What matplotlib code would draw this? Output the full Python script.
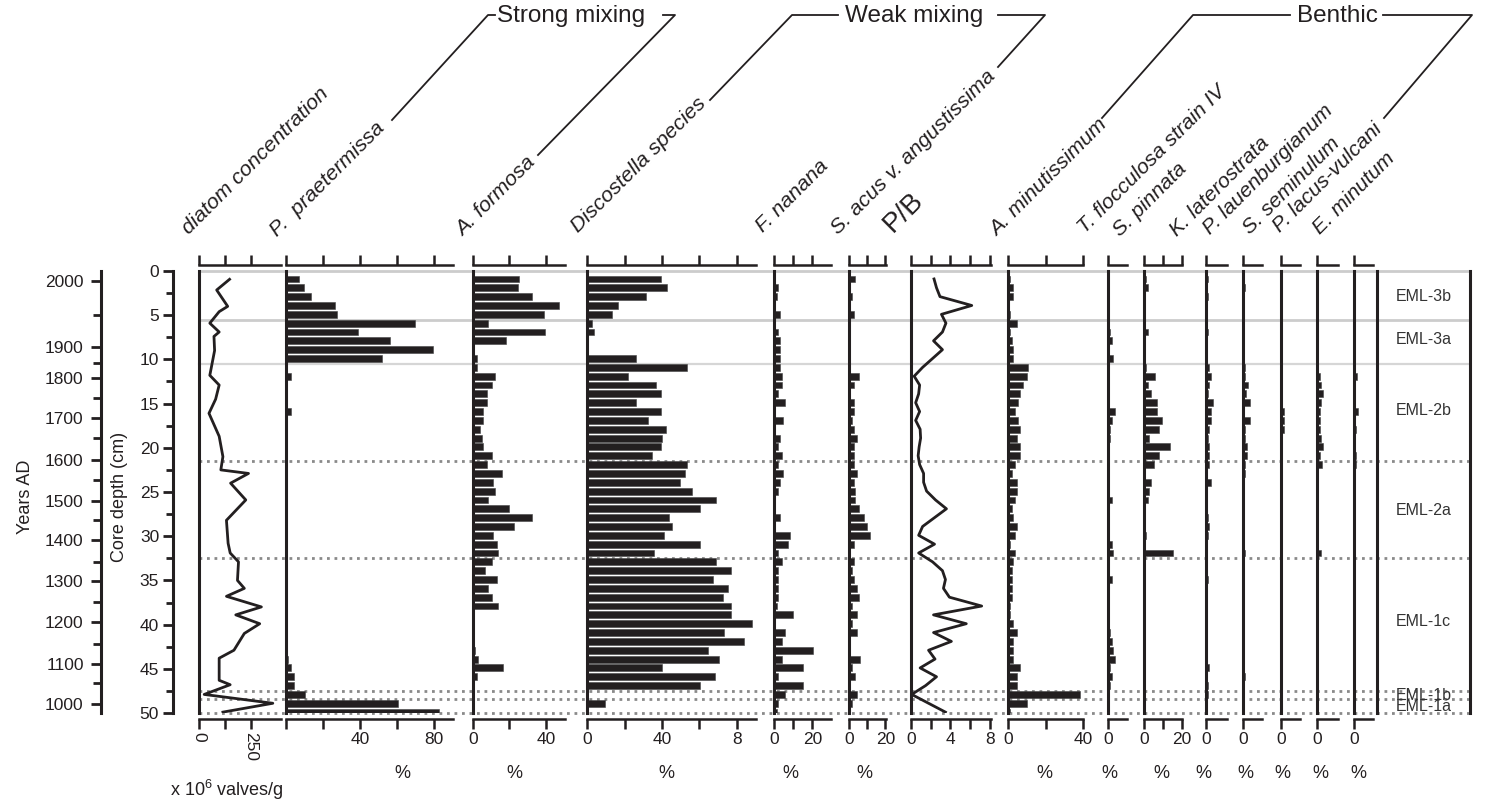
import matplotlib.pyplot as plt
import numpy as np
from matplotlib.lines import Line2D

plt.rcParams['font.family'] = ['Liberation Sans', 'DejaVu Sans']
plt.rcParams['mathtext.fontset'] = 'custom'
plt.rcParams['mathtext.rm'] = 'Liberation Sans'

INK = '#231f20'
W, H = 1510, 805

# sample mid-depths (cm), 1-cm slices
depth = np.arange(0.9, 50, 1.0)

# age-depth model ticks
year_major = [2000, 1900, 1800, 1700, 1600, 1500, 1400, 1300, 1200, 1100, 1000]
year_major_depth = [1.13, 8.6, 12.1, 16.6, 21.4, 26.0, 30.4, 35.1, 39.7, 44.5, 49.0]
year_minor_depth = [5.0, 10.4, 14.4, 18.9, 23.6, 28.2, 32.9, 37.4, 42.2, 46.6]

# diatom concentration (x10^6 valves/g)
conc_depth = [0.94, 2.15, 4.0, 4.6, 5.9, 6.9, 7.4, 9.0, 11.8, 12.9, 14.5, 16.1, 18.7, 21.0,
              22.5, 22.9, 24.0, 25.9, 28.2, 30.8, 31.9, 32.9, 35.0, 35.9, 36.8, 38.0,
              38.9, 39.9, 41.0, 42.9, 43.8, 46.3, 46.8, 47.9, 48.9, 49.9]
conc = [147, 85, 138, 97, 52, 97, 72, 75, 52, 97, 80, 48, 97, 115,
        105, 238, 152, 225, 132, 140, 150, 190, 185, 218, 132, 300,
        177, 292, 218, 168, 97, 97, 150, 25, 355, 115]

p_praetermissa = [7.0, 9.7, 13.3, 26.5, 27.4, 69.7, 38.7, 56.4, 79.3, 52.1,
                  0, 2.5, 0.3, 0.3, 0.3, 2.5, 0.5, 0.3, 0.3, 0.3,
                  0.5, 0.3, 0.5, 0.3, 0.5, 0.3, 0.3, 0.3, 0.3, 0.3,
                  0.3, 0.3, 0.3, 0.3, 0.3, 0.3, 0.3, 0.3, 0.3, 0.3,
                  0.3, 0.3, 0.3, 1.0, 2.5, 4.3, 4.3, 10.3, 60.7, 82.9]
a_formosa = [25.5, 24.5, 32.5, 46.9, 38.7, 8.5, 39.6, 18.4, 0.3, 2.2,
             2.2, 12.2, 10.4, 7.6, 7.6, 5.8, 5.8, 4.0, 4.9, 5.8,
             10.4, 7.6, 15.8, 11.3, 12.2, 8.5, 20.0, 32.5, 22.7, 11.3,
             13.1, 14.0, 10.4, 6.7, 13.1, 8.5, 10.4, 14.0, 0, 0,
             0, 0.4, 1.3, 3.1, 16.7, 2.2, 0, 0, 0, 0]
discostella = [39.3, 42.9, 31.3, 16.4, 13.0, 2.3, 3.4, 0, 0.5, 26.1,
               53.2, 21.8, 36.6, 39.3, 26.1, 39.3, 32.3, 42.0, 40.2, 39.3,
               34.8, 53.2, 52.3, 49.8, 55.9, 68.9, 60.2, 43.8, 45.5, 41.1,
               60.2, 35.7, 68.9, 76.8, 67.3, 75.2, 72.5, 76.8, 76.8, 88.2,
               73.4, 83.8, 64.6, 70.7, 40.2, 68.2, 60.2, 0, 9.5, 0]
f_nanana = [0.3, 2.1, 1.2, 0.3, 3.0, 0, 2.1, 3.0, 3.0, 3.0,
            3.0, 3.9, 3.9, 2.1, 5.6, 0.3, 4.7, 0.3, 3.0, 2.1,
            3.9, 2.1, 4.7, 3.0, 2.1, 0, 0, 3.0, 0, 8.1,
            7.4, 2.1, 3.9, 2.1, 2.1, 2.1, 2.1, 1.2, 9.8, 0,
            5.6, 3.9, 20.2, 3.9, 15.1, 2.1, 15.1, 5.6, 2.1, 1.2]
s_acus = [3.6, 0.5, 1.8, 0.5, 2.7, 0.3, 0.9, 0.3, 0.3, 0.9,
          0.3, 5.5, 2.7, 0.9, 2.7, 2.7, 1.8, 2.7, 4.5, 2.7,
          2.7, 2.7, 4.5, 2.7, 3.6, 3.6, 5.5, 8.2, 9.8, 11.6,
          2.7, 0.3, 2.7, 1.8, 2.7, 4.5, 5.5, 1.8, 4.5, 1.8,
          4.5, 0.9, 0.9, 6.4, 1.8, 3.6, 0.9, 4.5, 1.8, 0.3]
pb_ratio = [2.35, 2.6, 2.95, 6.15, 3.1, 3.55, 3.2, 2.3, 3.2, 2.2,
            1.2, 0.35, 0.9, 0.8, 0.5, 0.9, 0.5, 0.95, 1.0, 0.85,
            0.75, 0.9, 1.3, 1.3, 1.6, 2.5, 3.6, 2.4, 1.2, 0.8,
            2.4, 0.8, 2.2, 3.2, 3.5, 3.3, 3.9, 7.15, 2.3, 5.6,
            2.3, 4.1, 1.8, 2.45, 0.95, 2.6, 1.5, 0.1, 1.8, 3.5]
a_minutissimum = [0.9, 2.7, 2.7, 0.3, 0.9, 4.4, 0.9, 1.8, 2.7, 2.7,
                  10.7, 9.8, 8.0, 6.2, 5.3, 3.6, 5.3, 6.2, 4.4, 6.2,
                  6.2, 3.6, 1.8, 4.4, 4.4, 3.6, 1.8, 2.7, 4.4, 3.6,
                  0.9, 3.6, 2.7, 1.8, 1.8, 1.8, 1.8, 0.9, 0.9, 2.7,
                  4.4, 2.7, 2.7, 2.7, 6.2, 4.4, 4.4, 38.4, 9.8, 0.9]
t_flocculosa = [0.9, 0.3, 0.3, 0.3, 0.3, 0.9, 1.4, 2.1, 0.3, 3.0,
                0.2, 0, 0.9, 0, 0, 3.9, 2.1, 1.2, 1.2, 0.3,
                0.2, 0.2, 0.9, 0.2, 0.9, 2.1, 0.9, 0.9, 0.2, 0.2,
                2.1, 3.0, 0.9, 0.9, 2.1, 0.5, 0.3, 0.9, 0.9, 0.3,
                1.2, 2.1, 3.0, 3.9, 1.2, 2.1, 1.2, 0.5, 0.3, 0.2]
s_pinnata = [1.0, 1.9, 0.3, 0, 0, 0, 1.9, 0, 0, 0,
             1.0, 5.9, 1.9, 3.6, 6.9, 6.9, 9.5, 7.8, 2.8, 13.6,
             7.8, 5.2, 0, 3.6, 2.8, 1.9, 0, 0, 0, 1.0,
             0, 15.3, 0, 0, 0, 0, 0, 0, 0, 0,
             0, 0, 0, 0, 0, 0, 0, 0, 0, 0]
k_laterostrata = [1.0, 0, 1.0, 0, 0, 0, 1.0, 0, 0, 0,
                  1.9, 2.8, 1.9, 1.0, 3.7, 2.8, 2.8, 1.9, 1.0, 1.9,
                  1.9, 1.9, 0.5, 2.8, 0.5, 0, 0, 1.0, 1.9, 1.0,
                  0, 0, 0, 0, 1.0, 0, 0, 0, 0, 0,
                  0, 0, 0, 0, 1.9, 0, 1.0, 1.0, 0, 0]
p_lauenburgianum = [0, 0.9, 0, 0, 0, 0, 0, 0, 0, 0,
                    0.9, 0.9, 2.5, 1.6, 3.7, 0.5, 3.7, 0.9, 0.9, 1.8,
                    1.8, 0.9, 0.9, 0, 0, 0, 0, 0, 0, 0,
                    0, 0.9, 0, 0, 0, 0, 0, 0, 0, 0,
                    0, 0, 0, 0, 0, 0.9, 0, 0, 0, 0]
s_seminulum = [0, 0, 0, 0, 0, 0, 0, 0, 0, 0,
               0, 0, 0, 0, 0.5, 1.4, 1.4, 1.8, 0.5, 0,
               0, 0, 0, 0, 0, 0, 0, 0, 0, 0,
               0, 0, 0, 0, 0, 0, 0, 0, 0, 0,
               0, 0, 0, 0, 0, 0, 0, 0, 0, 0]
p_lacus_vulcani = [0, 0, 0, 0, 0, 0, 0, 0, 0, 0,
                   0, 1.8, 2.3, 3.5, 2.5, 1.8, 1.8, 1.8, 2.5, 3.5,
                   1.8, 2.8, 0.9, 0, 0, 0, 0, 0, 0, 0,
                   0, 2.5, 0, 0, 0, 0, 0, 0, 0, 0,
                   0, 0, 0, 0, 0, 0, 0, 0, 0, 0]
e_minutum = [0, 0, 0, 0, 0, 0, 0, 0, 0, 0,
             0, 1.2, 0, 0, 0, 2.1, 0, 0.9, 0, 0,
             0.9, 0.9, 0, 0, 0, 0, 0, 0, 0, 0,
             0, 0, 0, 0, 0, 0, 0, 0, 0, 0,
             0, 0, 0, 0, 0, 0, 0, 0, 0, 0]

# zones
zone_solid = [0, 5.5, 10.5]
zone_dotted = [21.5, 32.5, 47.5, 48.4, 50.0]
zone_names = ['EML-3b', 'EML-3a', 'EML-2b', 'EML-2a', 'EML-1c', 'EML-1b', 'EML-1a']
zone_mid = [2.9, 7.8, 15.8, 27.1, 39.7, 48.0, 49.3]

Y_TOP, Y_BOT = 271, 713


def fx(x):
    return x / W


def fy(y):
    return 1 - y / H


fig = plt.figure(figsize=(W / 100, H / 100), dpi=100)


def add_axes(left, right):
    return fig.add_axes([fx(left), fy(Y_BOT), (right - left) / W, (Y_BOT - Y_TOP) / H])


# background axes carrying the zone boundaries across all panels
bg = add_axes(199, 1470)
bg.set_xlim(0, 1)
bg.set_ylim(50, 0)
bg.axis('off')
for i, d in enumerate(zone_solid):
    bg.axhline(d, color='#cccccc' if i < 2 else '#d6d6d6', lw=2.0 if i < 2 else 1.6,
               clip_on=False)
for d in zone_dotted:
    bg.axhline(d, color='#8a8a8a', lw=2.0, linestyle=(0, (1, 1.7)), clip_on=False)


def style_panel(ax, xmax, ticks, labels, rot=0):
    ax.set_xlim(0, xmax)
    ax.set_ylim(50, 0)
    ax.patch.set_visible(False)
    ax.spines['right'].set_visible(False)
    ax.spines['left'].set_linewidth(2.2)
    ax.spines['left'].set_color(INK)
    for s in ('top', 'bottom'):
        ax.spines[s].set_position(('outward', 4))
        ax.spines[s].set_linewidth(1.8)
        ax.spines[s].set_color(INK)
    ax.set_yticks([])
    ax.set_xticks(ticks)
    ax.set_xticklabels(labels, fontsize=12.5, rotation=rot)
    ax.tick_params(axis='x', top=True, bottom=True, direction='out', length=7,
                   width=1.8, labeltop=False, pad=3, colors=INK)


# concentration panel
ax = add_axes(199, 280.5)
ax.plot(conc, conc_depth, color=INK, lw=2)
style_panel(ax, 392, [0, 125, 250], ['0', '', '250'], rot=-90)

# (series, left px, right px, xmax, ticks, tick labels)
panels = [
    (p_praetermissa, 286, 453, 90.3, [0, 20, 40, 60, 80], ['', '', '40', '', '80']),
    (a_formosa, 472.7, 565, 50.3, [0, 20, 40], ['0', '', '40']),
    (discostella, 587.3, 756, 90.3, [0, 20, 40, 60, 80], ['0', '', '40', '', '8']),
    (f_nanana, 774.3, 830.7, 29.7, [0, 10, 20], ['0', '', '20']),
    (s_acus, 848.7, 886, 20.4, [0, 10, 20], ['0', '', '20']),
    (None, 910.7, 990.7, 8.06, [0, 2, 4, 6, 8], ['0', '', '4', '', '8']),
    (a_minutissimum, 1008.3, 1083.3, 40, [0, 20, 40], ['0', '', '40']),
    (t_flocculosa, 1107.7, 1126.7, 10, [0], ['0']),
    (s_pinnata, 1144, 1181.7, 19.5, [0, 10, 20], ['0', '', '20']),
    (k_laterostrata, 1205.7, 1226.7, 11, [0], ['0']),
    (p_lauenburgianum, 1243.3, 1262.3, 10, [0], ['0']),
    (s_seminulum, 1281, 1300, 10, [0], ['0']),
    (p_lacus_vulcani, 1316.7, 1337.7, 11, [0], ['0']),
    (e_minutum, 1354.3, 1373.3, 10, [0], ['0']),
]
for vals, left, right, xmax, ticks, labels in panels:
    ax = add_axes(left, right)
    if vals is None:
        ax.plot(pb_ratio, depth, color=INK, lw=2)
    else:
        ax.barh(depth, vals, height=0.78, color=INK, edgecolor='#444444', linewidth=0.4)
    style_panel(ax, xmax, ticks, labels)

# zone column
zax = add_axes(1377, 1470)
zax.set_xlim(0, 1)
zax.set_ylim(50, 0)
zax.patch.set_visible(False)
zax.set_xticks([])
zax.set_yticks([])
for s in ('top', 'bottom'):
    zax.spines[s].set_visible(False)
for s in ('left', 'right'):
    zax.spines[s].set_linewidth(2.2)
    zax.spines[s].set_color(INK)
for name, d in zip(zone_names, zone_mid):
    zax.text(0.5, d, name, ha='center', va='center', fontsize=11.5, color='#333333')

# years axis
ya = fig.add_axes([fx(101), fy(Y_BOT), 0.0005, (Y_BOT - Y_TOP) / H])
ya.set_ylim(50, 0)
ya.patch.set_visible(False)
for s in ('top', 'bottom', 'right'):
    ya.spines[s].set_visible(False)
ya.spines['left'].set_linewidth(2.2)
ya.spines['left'].set_color(INK)
ya.set_xticks([])
ya.set_yticks(year_major_depth)
ya.set_yticklabels([str(y) for y in year_major], fontsize=12.5)
ya.set_yticks(year_minor_depth, minor=True)
ya.tick_params(axis='y', which='major', length=7.5, width=2, pad=5, colors=INK)
ya.tick_params(axis='y', which='minor', length=6, width=2, colors=INK)

# depth axis
da = fig.add_axes([fx(173), fy(Y_BOT), 0.0005, (Y_BOT - Y_TOP) / H])
da.set_ylim(50, 0)
da.patch.set_visible(False)
for s in ('top', 'bottom', 'right'):
    da.spines[s].set_visible(False)
da.spines['left'].set_linewidth(2.2)
da.spines['left'].set_color(INK)
da.set_xticks([])
da.set_yticks(np.arange(0, 51, 5))
da.set_yticks(np.arange(2.5, 50, 5), minor=True)
da.tick_params(axis='y', which='major', length=7, width=2, pad=3, labelsize=12.5, colors=INK)
da.tick_params(axis='y', which='minor', length=5, width=2, colors=INK)

fig.text(fx(25), fy(497), 'Years AD', rotation=90, ha='center', va='center', fontsize=13, color=INK)
fig.text(fx(120), fy(497), 'Core depth (cm)', rotation=90, ha='center', va='center', fontsize=13, color=INK)

# header labels: (text, x px, y px, fontsize, italic)
headers = [
    ('diatom concentration', 189, 235, 15.4, True),
    ('P.  praetermissa', 277, 237, 15.4, True),
    ('A. formosa', 463, 237, 15.4, True),
    ('Discostella species', 578, 233, 15.4, True),
    ('F. nanana', 763, 233, 15.4, True),
    ('S. acus v. angustissima', 838, 235, 15.4, True),
    ('P/B', 893, 233, 20, False),
    ('A. minutissimum', 997, 237, 15.4, True),
    ('T. flocculosa strain IV', 1085, 234, 15.2, True),
    ('S. pinnata', 1120, 237, 15.2, True),
    ('K. laterostrata', 1177, 237, 15.2, True),
    ('P. lauenburgianum', 1210, 235, 15.2, True),
    ('S. seminulum', 1250, 235, 15.2, True),
    ('P. lacus-vulcani', 1280, 233, 15.2, True),
    ('E. minutum', 1320, 235, 15.2, True),
]
for txt, x, y, fs, it in headers:
    fig.text(fx(x), fy(y), txt, rotation=45, rotation_mode='anchor', ha='left', va='baseline',
             fontsize=fs, style='italic' if it else 'normal', color=INK)

# group brackets
brackets = [
    [(392, 120), (488, 15), (495, 15)],
    [(663, 15), (675, 15), (538, 155)],
    [(710, 100), (792, 15), (838, 15)],
    [(998, 15), (1045, 15), (998, 67)],
    [(1102, 118), (1193, 15), (1290, 15)],
    [(1383, 15), (1472, 15), (1384, 118)],
]
for pts in brackets:
    xs = [fx(p[0]) for p in pts]
    ys = [fy(p[1]) for p in pts]
    fig.add_artist(Line2D(xs, ys, transform=fig.transFigure, color=INK, lw=1.3))
for txt, x in [('Strong mixing', 497), ('Weak mixing', 845), ('Benthic', 1297)]:
    fig.text(fx(x), fy(16), txt, ha='left', va='center', fontsize=17.5, color=INK)

# unit labels under panels
pct_x = [402, 514, 666, 790, 864, 1044, 1109, 1161, 1203, 1245, 1282, 1320, 1358]
for x in pct_x:
    fig.text(fx(x), fy(773), '%', ha='center', va='center', fontsize=13, color=INK)
fig.text(fx(170), fy(790), 'x 10$^6$ valves/g', ha='left', va='center', fontsize=13, color=INK)

fig.savefig('out.png', dpi=100)
